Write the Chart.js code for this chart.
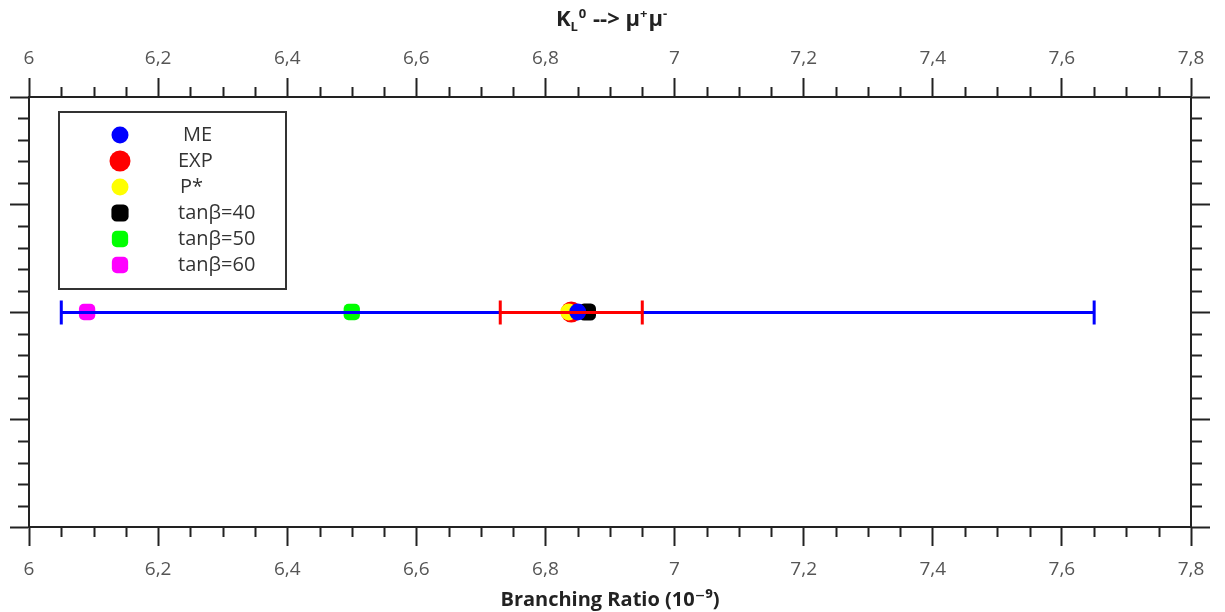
<!DOCTYPE html>
<html>
<head>
<meta charset="utf-8">
<script src="https://cdn.jsdelivr.net/npm/chart.js@4.4.1/dist/chart.umd.min.js"></script>
<style>
  html, body { margin: 0; padding: 0; background: #fff; }
  #wrap { width: 1225px; height: 612px; position: relative; }
</style>
</head>
<body>
<div id="wrap"><canvas id="chart"></canvas></div>
<script>
// Branching ratio values (units of 1e-9)
const seriesNames = ['ME', 'EXP', 'P*', 'tanβ=40', 'tanβ=50', 'tanβ=60'];
const centralValues = [6.85, 6.84, 6.836, 6.865, 6.50, 6.09];
const errorLow = [6.05, 6.73, null, null, null, null];
const errorHigh = [7.65, 6.95, null, null, null, null];
const rowLevel = 2;

// Axis ranges and tick steps
const xMin = 6, xMax = 7.8, xMajor = 0.2, xMinor = 0.05;
const yMin = 0, yMax = 4, yMajor = 1, yMinor = 0.2;

const colors = ['#0000ff', '#ff0000', '#ffff00', '#000000', '#00ff00', '#ff00ff'];
const styles = ['circle', 'circle', 'circle', 'rectRounded', 'rectRounded', 'rectRounded'];
const radii = [8.5, 10.5, 8.5, 10, 9.5, 9.5];
const drawOrder = [0, 2, 1, 3, 4, 5];

const FONT = '"Open Sans", "DejaVu Sans", sans-serif';
const AXIS = '#222';

const fmt = v => String(Math.round(v * 10) / 10).replace('.', ',');

// error bars are drawn over the markers
const errorBars = {
  id: 'errorBars',
  afterDatasetsDraw(chart) {
    const { ctx } = chart;
    const xs = chart.scales.x, ys = chart.scales.y;
    const y = Math.round(ys.getPixelForValue(rowLevel)) + 0.5;
    ctx.save();
    ctx.lineWidth = 3;
    ctx.lineCap = 'butt';
    for (let i = 0; i < seriesNames.length; i++) {
      if (errorLow[i] == null) continue;
      const x0 = xs.getPixelForValue(errorLow[i]);
      const x1 = xs.getPixelForValue(errorHigh[i]);
      ctx.strokeStyle = colors[i];
      ctx.beginPath();
      ctx.moveTo(x0, y); ctx.lineTo(x1, y);
      ctx.moveTo(x0, y - 12); ctx.lineTo(x0, y + 12);
      ctx.moveTo(x1, y - 12); ctx.lineTo(x1, y + 12);
      ctx.stroke();
    }
    ctx.restore();
  }
};

// short outward ticks between the labelled ones
const minorTicks = {
  id: 'minorTicks',
  afterDraw(chart) {
    const { ctx, chartArea: a } = chart;
    ctx.save();
    ctx.strokeStyle = AXIS;
    ctx.lineWidth = 2;
    ctx.beginPath();
    const nx = Math.round((xMax - xMin) / xMinor);
    for (let k = 1; k < nx; k++) {
      if (k % Math.round(xMajor / xMinor) === 0) continue;
      const px = Math.round(chart.scales.x.getPixelForValue(xMin + k * xMinor)) + 0.5;
      ctx.moveTo(px, a.bottom); ctx.lineTo(px, a.bottom + 10);
      ctx.moveTo(px, a.top); ctx.lineTo(px, a.top - 10);
    }
    const ny = Math.round((yMax - yMin) / yMinor);
    for (let k = 1; k < ny; k++) {
      if (k % Math.round(yMajor / yMinor) === 0) continue;
      const py = Math.round(chart.scales.y.getPixelForValue(yMin + k * yMinor)) + 0.5;
      ctx.moveTo(a.left, py); ctx.lineTo(a.left - 11, py);
      ctx.moveTo(a.right, py); ctx.lineTo(a.right + 11, py);
    }
    ctx.stroke();
    ctx.restore();
  }
};

// boxed legend in the upper left
const legendBox = {
  id: 'legendBox',
  afterDraw(chart) {
    const { ctx } = chart;
    ctx.save();
    ctx.strokeStyle = '#333';
    ctx.lineWidth = 2;
    ctx.strokeRect(59, 112, 227, 177);
    ctx.font = '20px ' + FONT;
    ctx.textBaseline = 'middle';
    ctx.textAlign = 'left';
    const textX = [183, 178, 180, 178, 178, 178];
    for (let i = 0; i < seriesNames.length; i++) {
      const y = 135 + i * 26;
      ctx.fillStyle = colors[i];
      ctx.strokeStyle = colors[i];
      Chart.helpers.drawPoint(ctx, { pointStyle: styles[i], radius: radii[i], rotation: 0, borderWidth: 0 }, 120, y);
      ctx.fillStyle = '#333';
      ctx.fillText(seriesNames[i], textX[i], y);
    }
    ctx.restore();
  }
};

// heading with sub/superscripts
const heading = {
  id: 'heading',
  afterDraw(chart) {
    const { ctx } = chart;
    const big = 'bold 22px ' + FONT, small = 'bold 13px ' + FONT;
    const parts = [
      ['K', big, 0], ['L', small, 5], ['0', small, -8],
      [' --> μ', big, 0], ['+', small, -8], ['μ', big, 0], ['-', small, -8]
    ];
    ctx.save();
    ctx.fillStyle = '#222';
    ctx.textBaseline = 'alphabetic';
    let total = 0;
    parts.forEach(p => { ctx.font = p[1]; total += ctx.measureText(p[0]).width + (p[1] === small ? 1 : 0); });
    let x = 612 - total / 2;
    const base = 26;
    parts.forEach(p => {
      ctx.font = p[1];
      ctx.fillText(p[0], x, base + p[2]);
      x += ctx.measureText(p[0]).width + (p[1] === small ? 1 : 0);
    });
    ctx.restore();
  }
};

const tickFont = { family: FONT, size: 19 };
const gridOpts = { drawOnChartArea: false, drawTicks: true, tickLength: 19, tickWidth: 2, tickColor: AXIS };
const borderOpts = { display: true, color: AXIS, width: 2 };

new Chart(document.getElementById('chart'), {
  type: 'scatter',
  data: {
    datasets: seriesNames.map((name, i) => ({
      label: name,
      data: [{ x: centralValues[i], y: rowLevel }],
      pointStyle: styles[i],
      pointRadius: radii[i],
      pointHoverRadius: radii[i],
      backgroundColor: colors[i],
      borderColor: colors[i],
      borderWidth: 0,
      order: drawOrder[i]
    }))
  },
  options: {
    responsive: true,
    maintainAspectRatio: false,
    animation: false,
    layout: { padding: 0 },
    plugins: { legend: { display: false }, tooltip: { enabled: false } },
    scales: {
      x: {
        type: 'linear', position: 'bottom', min: xMin, max: xMax,
        ticks: { stepSize: xMajor, callback: fmt, color: '#555', font: tickFont, padding: 12, maxRotation: 0, autoSkip: false },
        grid: gridOpts, border: borderOpts,
        title: { display: true, text: 'Branching Ratio (10⁻⁹)', color: '#222', font: { family: FONT, size: 20, weight: 'bold' }, padding: { top: 0, bottom: 0 } },
        afterFit: s => { s.height = 85; }
      },
      x2: {
        type: 'linear', position: 'top', min: xMin, max: xMax,
        ticks: { stepSize: xMajor, callback: fmt, color: '#555', font: tickFont, padding: 8, maxRotation: 0, autoSkip: false },
        grid: gridOpts, border: borderOpts,
        afterFit: s => { s.height = 97; }
      },
      y: {
        type: 'linear', position: 'left', min: yMin, max: yMax,
        ticks: { stepSize: yMajor, display: false },
        grid: gridOpts, border: borderOpts,
        afterFit: s => { s.width = 29; }
      },
      y2: {
        type: 'linear', position: 'right', min: yMin, max: yMax,
        ticks: { stepSize: yMajor, display: false },
        grid: gridOpts, border: borderOpts,
        afterFit: s => { s.width = 34; }
      }
    }
  },
  plugins: [errorBars, minorTicks, legendBox, heading]
});
</script>
</body>
</html>
